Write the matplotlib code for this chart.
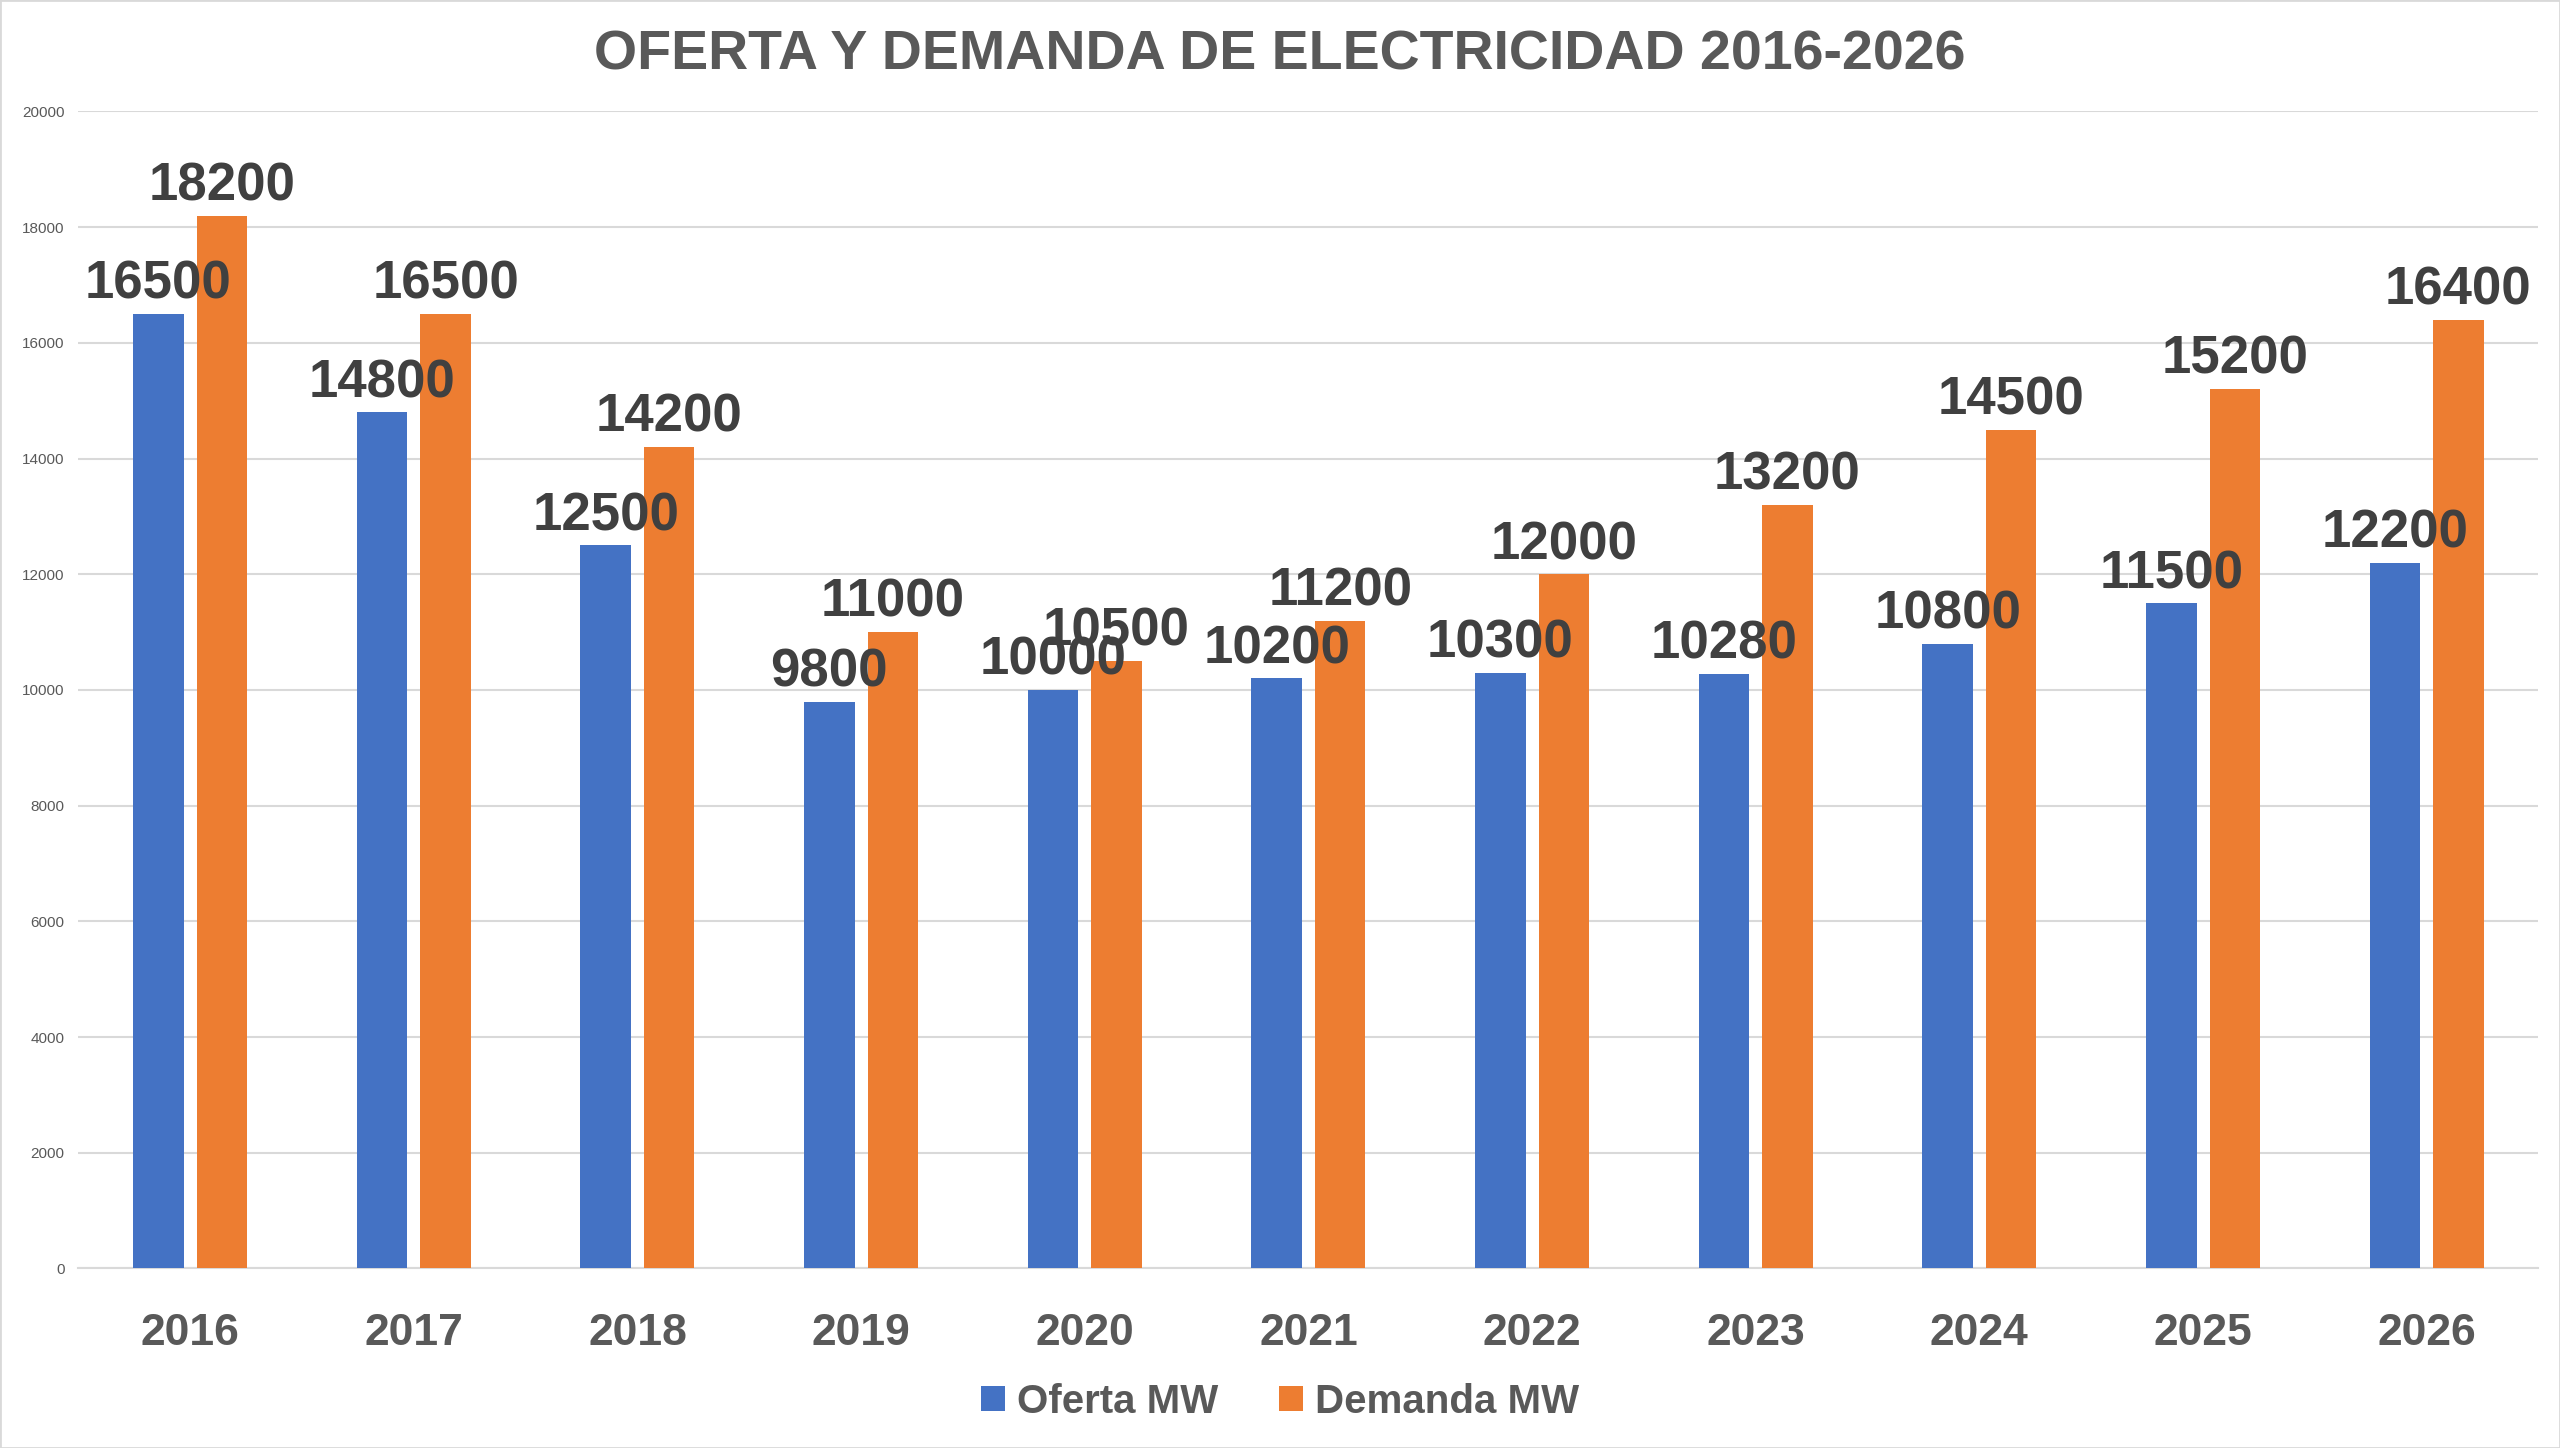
import matplotlib
matplotlib.use("Agg")
import matplotlib.pyplot as plt
import numpy as np

years = ["2016","2017","2018","2019","2020","2021","2022","2023","2024","2025","2026"]
oferta = [16500,14800,12500,9800,10000,10200,10300,10280,10800,11500,12200]
demanda = [18200,16500,14200,11000,10500,11200,12000,13200,14500,15200,16400]

plt.rcParams['font.family'] = ['Liberation Sans', 'DejaVu Sans']
fig = plt.figure(figsize=(25.6,14.48), dpi=100)
ax = fig.add_axes([0.0306,0.124,0.961,0.799])
x = np.arange(len(years))
w = 0.226; off = 0.142
blue = '#4472C4'; orange = '#ED7D31'
b1 = ax.bar(x-off, oferta, w, color=blue, label='Oferta MW', zorder=3)
b2 = ax.bar(x+off, demanda, w, color=orange, label='Demanda MW', zorder=3)
for bars in (b1,b2):
    for r in bars:
        ax.annotate(f"{int(r.get_height())}", (r.get_x()+r.get_width()/2, r.get_height()),
                    xytext=(0,3), textcoords='offset points', ha='center', va='bottom',
                    fontsize=38, fontweight='heavy', color='#404040', zorder=4)
ax.set_xlim(-0.5,10.5)
ax.set_ylim(0,20000)
ax.set_yticks(range(0,20001,2000))
ax.yaxis.grid(True, color='#d9d9d9', linewidth=1.5, zorder=0)
for s in ['top','right','left']:
    ax.spines[s].set_visible(False)
ax.spines['bottom'].set_color('#d9d9d9')
ax.spines['bottom'].set_linewidth(1.5)
ax.tick_params(axis='y', length=0, labelsize=11, labelcolor='#595959', pad=10)
ax.tick_params(axis='x', length=0, labelsize=32, labelcolor='#595959', pad=32)
ax.set_xticks(x)
ax.set_xticklabels(years, fontweight='bold')
fig.text(0.5, 0.962, "OFERTA Y DEMANDA DE ELECTRICIDAD 2016-2026", ha='center', va='center',
         fontsize=40, fontweight='bold', color='#595959')
leg = fig.legend(handles=[b1,b2], loc='center', bbox_to_anchor=(0.5,0.032), ncol=2, frameon=False,
                 prop={'size':29,'weight':'bold'}, handlelength=0.6, handleheight=0.6,
                 handletextpad=0.3, columnspacing=1.5)
for t in leg.get_texts():
    t.set_color('#595959')
fig.patches.append(plt.Rectangle((0,0),1,1, transform=fig.transFigure, fill=False,
                                 edgecolor='#d9d9d9', linewidth=2))
fig.savefig("out.png", dpi=100)
